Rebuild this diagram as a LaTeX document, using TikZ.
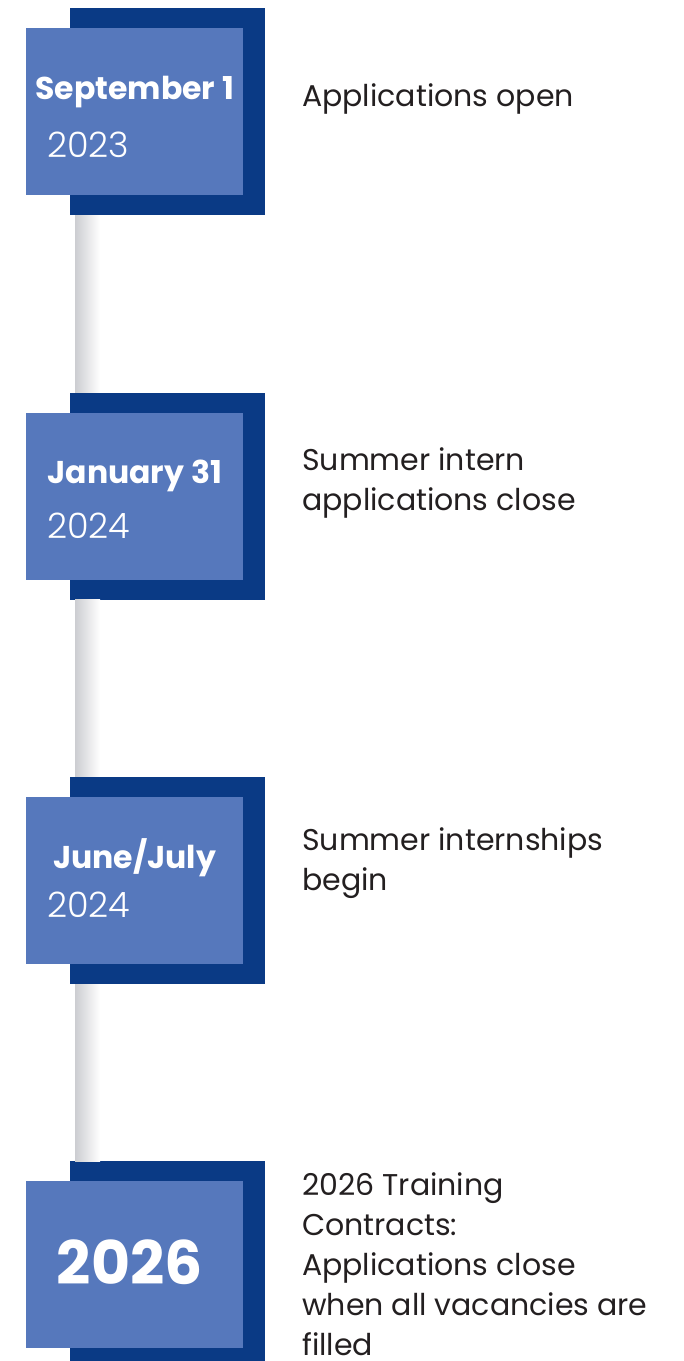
\documentclass[tikz,border=0pt]{standalone}
\usepackage{fontspec}
\setmainfont{Poppins}
\newfontfamily\yearfont{Poppins Light}
\usetikzlibrary{positioning}
\definecolor{navy}{RGB}{10,58,133}
\definecolor{lightblue}{RGB}{86,120,188}
\definecolor{ink}{RGB}{35,31,32}
\definecolor{rail}{RGB}{204,205,209}
\tikzstyle{backbox} = [rectangle, fill=navy, minimum width=195pt, minimum height=207pt, inner sep=0pt]
\tikzstyle{frontbox} = [rectangle, fill=lightblue, minimum width=217pt, minimum height=167pt, inner sep=0pt, anchor=north west, xshift=-44pt, yshift=-20pt]
\tikzstyle{monthtext} = [text=white, inner sep=0pt, anchor=base, font=\fontsize{31.5}{31.5}\selectfont\bfseries]
\tikzstyle{yeartext} = [text=white, inner sep=0pt, anchor=base west, font=\fontsize{35}{35}\selectfont\yearfont]
\tikzstyle{bigyear} = [text=white, inner sep=0pt, anchor=base, font=\fontsize{60}{60}\selectfont\bfseries]
\tikzstyle{eventtext} = [text=ink, inner sep=0pt, anchor=base west, align=left, font=\fontsize{30}{40}\selectfont]

\begin{document}
\begin{tikzpicture}[x=1pt, y=1pt, node distance=177pt]
  \useasboundingbox (0,0) rectangle (684,-1361);

  % dark back squares
  \node (back1) [backbox, anchor=north west] at (70,-8) {};
  \node (back2) [backbox, below=of back1] {};
  \node (back3) [backbox, below=of back2] {};
  \node (back4) [backbox, below=of back3] {};

  % grey rails between the squares
  \shade[left color=rail, right color=white] ([xshift=5pt]back1.south west) rectangle ([xshift=30pt]back2.north west);
  \shade[left color=rail, right color=white] ([xshift=5pt]back2.south west) rectangle ([xshift=30pt]back3.north west);
  \shade[left color=rail, right color=white] ([xshift=5pt]back3.south west) rectangle ([xshift=30pt]back4.north west);

  % light front squares
  \node (front1) [frontbox] at (back1.north west) {};
  \node (front2) [frontbox] at (back2.north west) {};
  \node (front3) [frontbox] at (back3.north west) {};
  \node (front4) [frontbox] at (back4.north west) {};

  \node (month1) [monthtext] at ([yshift=-71pt]front1.north) {September 1};
  \node (year1) [yeartext] at ([xshift=21pt, yshift=-129pt]front1.north west) {2023};
  \node (month2) [monthtext] at ([yshift=-71pt]front2.north) {January 31};
  \node (year2) [yeartext] at ([xshift=21pt, yshift=-126pt]front2.north west) {2024};
  \node (month3) [monthtext] at ([yshift=-72pt]front3.north) {June/July};
  \node (year3) [yeartext] at ([xshift=21pt, yshift=-121pt]front3.north west) {2024};
  \node (month4) [bigyear] at ([xshift=-5pt, yshift=-103pt]front4.north) {2026};

  % what happens
  \node (event1) [eventtext] at (302,-106) {Applications open};
  \node (event2) [eventtext] at (302,-510) {Summer intern\\applications close};
  \node (event3) [eventtext] at (302,-890) {Summer internships\\begin};
  \node (event4) [eventtext] at (302,-1355) {2026 Training\\Contracts:\\Applications close\\when all vacancies are\\filled};
\end{tikzpicture}
\end{document}
